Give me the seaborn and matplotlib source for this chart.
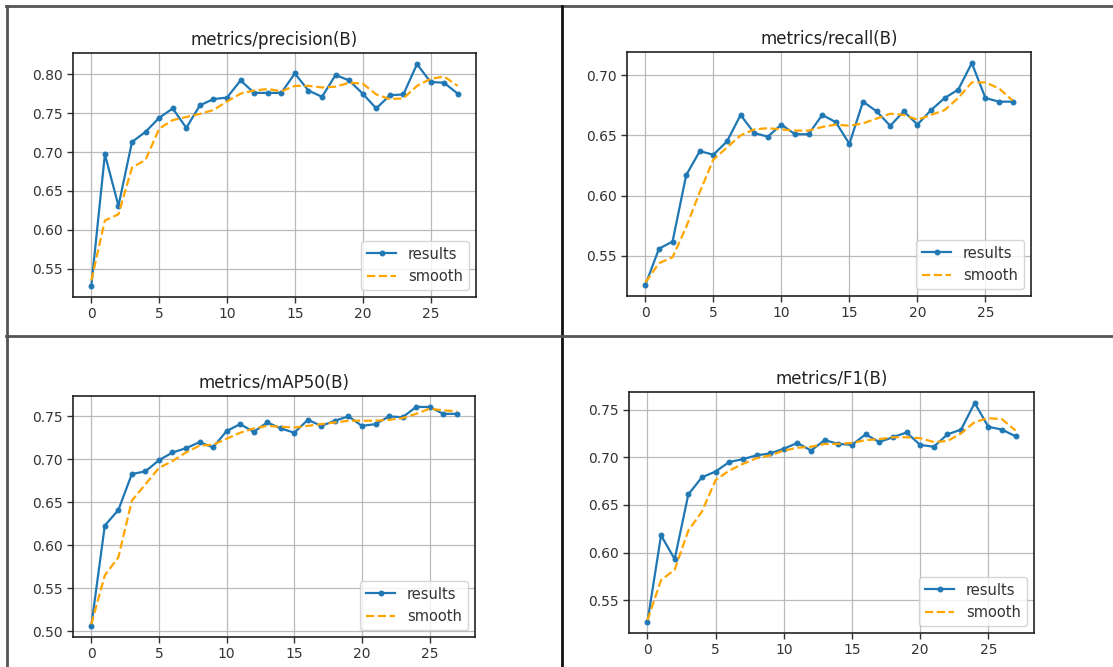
import numpy as np
import matplotlib
matplotlib.use("Agg")
import matplotlib.pyplot as plt
import seaborn as sns
from matplotlib.lines import Line2D

epochs = list(range(28))

titles = ["metrics/precision(B)", "metrics/recall(B)", "metrics/mAP50(B)", "metrics/F1(B)"]

precision = [0.528, 0.697, 0.631, 0.713, 0.726, 0.744, 0.756, 0.731, 0.760, 0.768,
             0.770, 0.792, 0.776, 0.776, 0.776, 0.801, 0.779, 0.771, 0.799, 0.792,
             0.775, 0.756, 0.773, 0.774, 0.813, 0.790, 0.789, 0.775]
precision_smooth = [0.535, 0.612, 0.620, 0.680, 0.690, 0.730, 0.741, 0.745, 0.749, 0.754,
                    0.765, 0.775, 0.779, 0.781, 0.778, 0.785, 0.785, 0.783, 0.784, 0.789,
                    0.788, 0.774, 0.768, 0.769, 0.785, 0.794, 0.797, 0.785]

recall = [0.526, 0.556, 0.562, 0.617, 0.637, 0.634, 0.645, 0.667, 0.652, 0.649,
          0.659, 0.651, 0.651, 0.667, 0.661, 0.643, 0.678, 0.670, 0.658, 0.670,
          0.659, 0.671, 0.681, 0.688, 0.710, 0.681, 0.678, 0.678]
recall_smooth = [0.528, 0.544, 0.549, 0.574, 0.603, 0.630, 0.640, 0.650, 0.655, 0.656,
                 0.655, 0.654, 0.654, 0.657, 0.659, 0.658, 0.660, 0.664, 0.668, 0.667,
                 0.663, 0.667, 0.671, 0.681, 0.694, 0.694, 0.689, 0.679]

map50 = [0.506, 0.623, 0.641, 0.683, 0.686, 0.699, 0.708, 0.713, 0.720, 0.714,
         0.733, 0.741, 0.732, 0.743, 0.736, 0.731, 0.746, 0.739, 0.745, 0.750,
         0.739, 0.741, 0.750, 0.749, 0.761, 0.761, 0.753, 0.753]
map50_smooth = [0.508, 0.565, 0.586, 0.652, 0.671, 0.690, 0.698, 0.708, 0.716, 0.717,
                0.724, 0.731, 0.736, 0.739, 0.738, 0.737, 0.739, 0.741, 0.743, 0.745,
                0.745, 0.745, 0.746, 0.748, 0.753, 0.759, 0.757, 0.756]

f1 = [0.527, 0.618, 0.593, 0.661, 0.679, 0.685, 0.695, 0.698, 0.702, 0.704,
      0.709, 0.715, 0.707, 0.718, 0.714, 0.713, 0.724, 0.716, 0.721, 0.726,
      0.713, 0.711, 0.724, 0.729, 0.757, 0.732, 0.729, 0.722]
f1_smooth = [0.529, 0.571, 0.582, 0.623, 0.643, 0.676, 0.686, 0.693, 0.699, 0.702,
             0.707, 0.710, 0.711, 0.714, 0.714, 0.715, 0.718, 0.719, 0.721, 0.721,
             0.720, 0.716, 0.717, 0.725, 0.737, 0.741, 0.740, 0.728]

results_list = [precision, recall, map50, f1]
smooth_list = [precision_smooth, recall_smooth, map50_smooth, f1_smooth]
yticks_list = [[0.55, 0.60, 0.65, 0.70, 0.75, 0.80],
               [0.55, 0.60, 0.65, 0.70],
               [0.50, 0.55, 0.60, 0.65, 0.70, 0.75],
               [0.55, 0.60, 0.65, 0.70, 0.75]]

W, H = 1113, 667
fig = plt.figure(figsize=(W / 100, H / 100), dpi=100)
fig.patch.set_facecolor("white")

# axes boxes in pixels: left, top, right, bottom
boxes = [(73, 53, 476, 297), (627, 52, 1031, 296),
         (73, 396, 475, 637), (629, 392, 1034, 633)]

for i in range(4):
    l, t, r, b = boxes[i]
    ax = fig.add_axes([l / W, 1 - b / H, (r - l) / W, (b - t) / H])
    sns.lineplot(x=epochs, y=results_list[i], ax=ax, marker=".", color="#1f77b4",
                 markeredgecolor="#1f77b4", markersize=7, linewidth=1.6, label="results")
    sns.lineplot(x=epochs, y=smooth_list[i], ax=ax, color="orange", linestyle="--",
                 linewidth=1.6, label="smooth")
    ax.set_title(titles[i], fontsize=12, color="#222222", pad=6)
    ax.set_xticks([0, 5, 10, 15, 20, 25])
    ax.set_yticks(yticks_list[i])
    ax.set_yticklabels([f"{v:.2f}" for v in yticks_list[i]])
    ax.tick_params(labelsize=10, labelcolor="#333333", color="#333333",
                   length=4, width=1, direction="out")
    ax.grid(True, color="#b0b0b0", linewidth=0.9, alpha=0.85)
    ax.set_xlabel("")
    ax.set_ylabel("")
    for s in ax.spines.values():
        s.set_color("#222222")
        s.set_linewidth(1.2)
    leg = ax.legend(loc="lower right", fontsize=10.5)
    for txt in leg.get_texts():
        txt.set_color("#333333")

# table borders around the four panels
border = "#555555"
fig.add_artist(Line2D([7 / W, 7 / W], [0, 1 - 6 / H], color=border, lw=2))
fig.add_artist(Line2D([6 / W, 1], [1 - 6 / H, 1 - 6 / H], color=border, lw=2))
fig.add_artist(Line2D([562 / W, 562 / W], [0, 1 - 6 / H], color="#111111", lw=2))
fig.add_artist(Line2D([6 / W, 1], [1 - 335.5 / H, 1 - 335.5 / H], color=border, lw=2))

fig.savefig("out.png", dpi=100, facecolor="white")
